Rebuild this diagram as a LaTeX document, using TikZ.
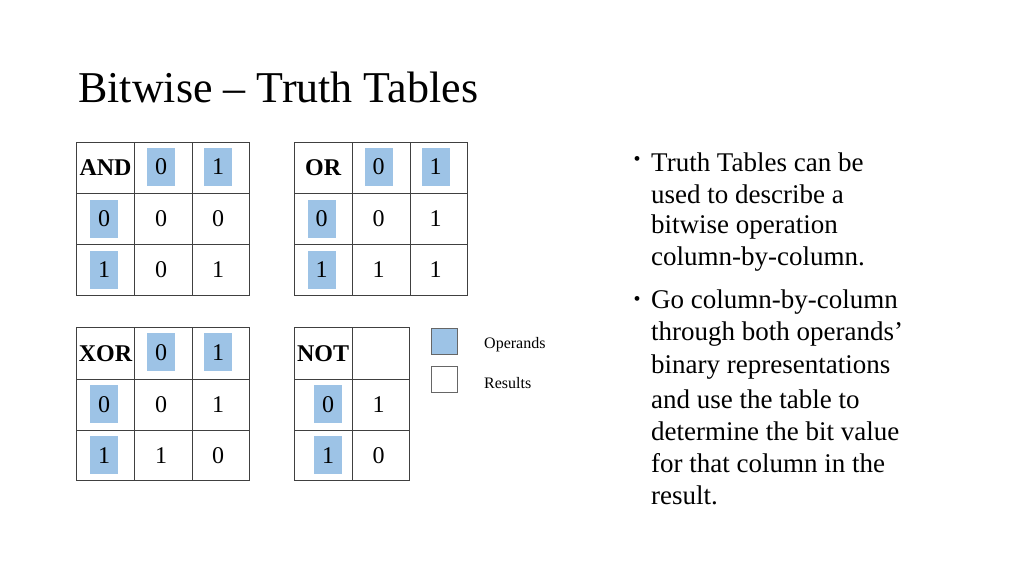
\documentclass[tikz,border=0pt]{standalone}
\usepackage{fontspec}
\setmainfont{Liberation Serif}
\definecolor{opblue}{HTML}{9DC3E6}
\tikzset{
  cellline/.style={draw=black!75, line width=0.8pt},
  op/.style={fill=opblue, minimum width=28pt, minimum height=38pt, inner sep=0pt},
  cell/.style={inner sep=0pt, font=\fontsize{24}{26}\selectfont},
  hdr/.style={inner sep=0pt, font=\fontsize{24}{26}\selectfont\bfseries},
  bul/.style={anchor=west, inner sep=0pt, font=\fontsize{27}{30}\selectfont},
  leg/.style={anchor=west, inner sep=0pt, font=\fontsize{16}{18}\selectfont}
}
\begin{document}
\begin{tikzpicture}[x=1pt,y=-1pt]
\useasboundingbox (0,0) rectangle (1024,576);
\node[anchor=base west, inner sep=0pt, font=\fontsize{44}{48}\selectfont] (title) at (78,102) {Bitwise -- Truth Tables};
% generic table macro
\newcommand{\ttab}[9]{%
 % #1 x0, #2 y0, #3 name, #4 op label, #5..#9 unused
}
% AND table
\foreach \x/\y/\nm/\lab/\a/\b/\c/\d in {76.7/142/and/AND/0/0/0/1, 294.3/142/or/OR/0/1/1/1, 76.7/327.3/xor/XOR/0/1/1/0}{
  \draw[cellline] (\x,\y) rectangle ++(173,153.3);
  \draw[cellline] (\x+57.7,\y) -- ++(0,153.3) (\x+115.7,\y) -- ++(0,153.3);
  \draw[cellline] (\x,\y+51.7) -- ++(173,0) (\x,\y+102.7) -- ++(173,0);
  \node[hdr] (\nm-h) at (\x+28.8,\y+26) {\lab};
  \node[op] (\nm-c0) at (\x+84.3,\y+25) {};
  \node[cell] at (\nm-c0) {0};
  \node[op] (\nm-c1) at (\x+141.3,\y+25) {};
  \node[cell] at (\nm-c1) {1};
  \node[op] (\nm-r0) at (\x+27.3,\y+77) {};
  \node[cell] at (\nm-r0) {0};
  \node[op] (\nm-r1) at (\x+27.3,\y+128) {};
  \node[cell] at (\nm-r1) {1};
  \node[cell] (\nm-00) at (\x+84.3,\y+77) {\a};
  \node[cell] (\nm-01) at (\x+141.3,\y+77) {\b};
  \node[cell] (\nm-10) at (\x+84.3,\y+128) {\c};
  \node[cell] (\nm-11) at (\x+141.3,\y+128) {\d};
}
% NOT table
\draw[cellline] (294.3,327.3) rectangle (409.7,480.6);
\draw[cellline] (352,327.3) -- (352,480.6);
\draw[cellline] (294.3,379) -- (409.7,379) (294.3,430) -- (409.7,430);
\node[hdr] (not-h) at (323,353.3) {NOT};
\node[op] (not-r0) at (328,404.3) {};
\node[cell] at (not-r0) {0};
\node[op] (not-r1) at (328,455.3) {};
\node[cell] at (not-r1) {1};
\node[cell] (not-0) at (378.5,404.3) {1};
\node[cell] (not-1) at (378.5,455.3) {0};
% legend
\node[fill=opblue, draw=black!60, line width=0.8pt, minimum size=26pt, inner sep=0pt] (legop) at (444,341) {};
\node[fill=white, draw=black!60, line width=0.8pt, minimum size=26pt, inner sep=0pt] (legres) at (444,379) {};
\node[leg] (legopt) at (484,345) {Operands};
\node[leg] (legrest) at (484,383) {Results};
% bullets
\node[anchor=center, inner sep=0pt, font=\fontsize{20}{22}\selectfont] (b1) at (637,161) {\textbullet};
\node[anchor=center, inner sep=0pt, font=\fontsize{20}{22}\selectfont] (b2) at (637,301) {\textbullet};
\foreach \t [count=\i from 0] in {Truth Tables can be, used to describe a, bitwise operation, column-by-column.}
  \node[bul] (l1-\i) at (651,162+32.3*\i) {\t};
\foreach \t [count=\i from 0] in {Go column-by-column, through both operands', binary representations, and use the table to, determine the bit value, for that column in the, result.}
  \node[bul] (l2-\i) at (651,302+32.3*\i) {\t};
\end{tikzpicture}
\end{document}
